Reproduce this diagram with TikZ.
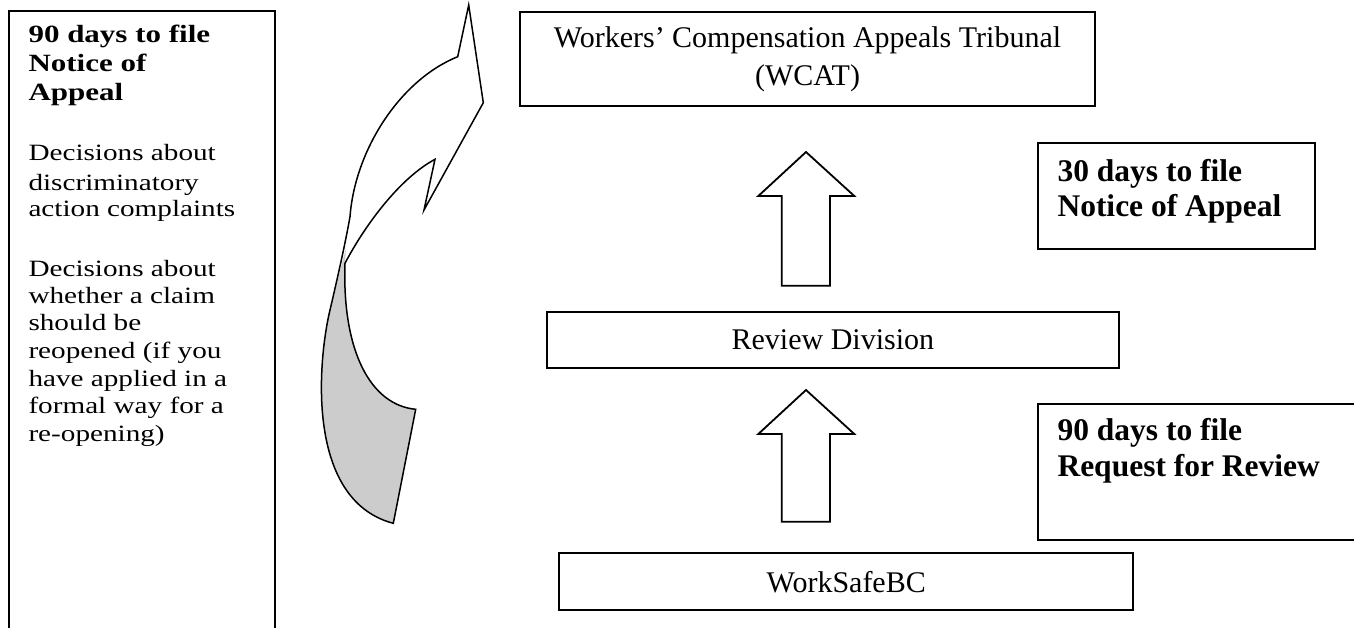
\documentclass[tikz,border=0pt]{standalone}
\usepackage{fontspec}
\setmainfont{Liberation Serif}
\usepackage{graphicx}
\definecolor{bandgray}{RGB}{204,204,204}
\newcommand\myreg{\fontsize{30}{36}\selectfont}
\newcommand\mybold{\fontsize{31.5}{36}\selectfont\bfseries}
\newcommand\myleftreg{\fontsize{29.2}{36}\selectfont}
\newcommand\myleftbold{\fontsize{31}{36}\selectfont\bfseries}
\begin{document}
\begin{tikzpicture}[x=1pt,y=-1pt,
  box/.style={draw, line width=2pt, inner sep=0pt, fill=white},
  txt/.style={anchor=base west, inner sep=0pt},
  blockarrow/.style={draw, line width=1.8pt, line join=miter, fill=white},
  curvearrow/.style={draw, line width=1.5pt, line join=miter}]
\useasboundingbox (0,0) rectangle (1354,627);

% left box (open at the bottom, runs past the page)
\node[box, minimum width=266pt, minimum height=660pt, anchor=north west] (leftbox) at (8,10) {};
\foreach \t/\yy [count=\i] in {{90 days to file}/42.7,{Notice of}/71.7,{Appeal}/100}
  \node[txt, font=\myleftbold] (lb\i) at (28.3,\yy) {\scalebox{1}[0.8]{\t}};
\foreach \t/\yy [count=\i] in {{Decisions about}/160,{discriminatory}/190,{action complaints}/216.7,
  {Decisions about}/276.7,{whether a claim}/303,{should be}/330,{reopened (if you}/358,
  {have applied in a}/386.7,{formal way for a}/413,{re-opening)}/441.7}
  \node[txt, font=\myleftreg] (lr\i) at (28.3,\yy) {\scalebox{1}[0.8]{\t}};

% curved arrow
\coordinate (A) at (345,263.3);
\coordinate (B) at (435,159.3);
\coordinate (C) at (424,210);
\coordinate (D) at (483.3,102.7);
\coordinate (E) at (468.7,5);
\coordinate (F) at (457.7,56.7);
\coordinate (G) at (350,216.7);
\coordinate (H) at (330,310);
\coordinate (J) at (393.3,523.3);
\coordinate (K) at (415.7,409.3);
\coordinate (T) at (346,248);
\fill[bandgray] (T) -- (H) .. controls (318,360) and (305,500) .. (J) -- (K)
  .. controls (370,405) and (342,350) .. (A) -- cycle;
\draw[curvearrow] (A) .. controls (365,225) and (400,178) .. (B) -- (C) -- (D) -- (E) -- (F)
  .. controls (400,80) and (355,150) .. (G) .. controls (345,245) and (337,280) .. (H)
  .. controls (318,360) and (305,500) .. (J) -- (K)
  .. controls (370,405) and (342,350) .. (A) -- cycle;

% right column boxes
\node[box, minimum width=575pt, minimum height=93.7pt, align=center, font=\myreg] (wcat) at (807.5,59.2)
  {Workers’ Compensation Appeals Tribunal\\[1.5pt](WCAT)};
\node[box, minimum width=572.3pt, minimum height=56.6pt, font=\myreg] (review) at (832.9,340) {Review Division};
\node[box, minimum width=574.3pt, minimum height=56.7pt, font=\myreg] (worksafe) at (846.2,581.7) {WorkSafeBC};

\node[box, minimum width=277.3pt, minimum height=105.4pt, anchor=north west] (days30) at (1036.7,142.3) {};
\node[txt, font=\mybold] (d30a) at (1057.3,181.7) {30 days to file};
\node[txt, font=\mybold] (d30b) at (1057.3,216.7) {Notice of Appeal};

\node[box, minimum width=340pt, minimum height=136.6pt, anchor=north west] (days90) at (1036.7,402.7) {};
\node[txt, font=\mybold] (d90a) at (1057.3,440) {90 days to file};
\node[txt, font=\mybold] (d90b) at (1057.3,476.7) {Request for Review};

% block arrows
\draw[blockarrow] (781.7,285.7) -- (781.7,196) -- (758.3,196) -- (806,152) -- (854.3,196)
  -- (830,196) -- (830,285.7) -- cycle;
\draw[blockarrow] (781.7,521.7) -- (781.7,434) -- (758.3,434) -- (806,390) -- (854.3,434)
  -- (830,434) -- (830,521.7) -- cycle;
\end{tikzpicture}
\end{document}
